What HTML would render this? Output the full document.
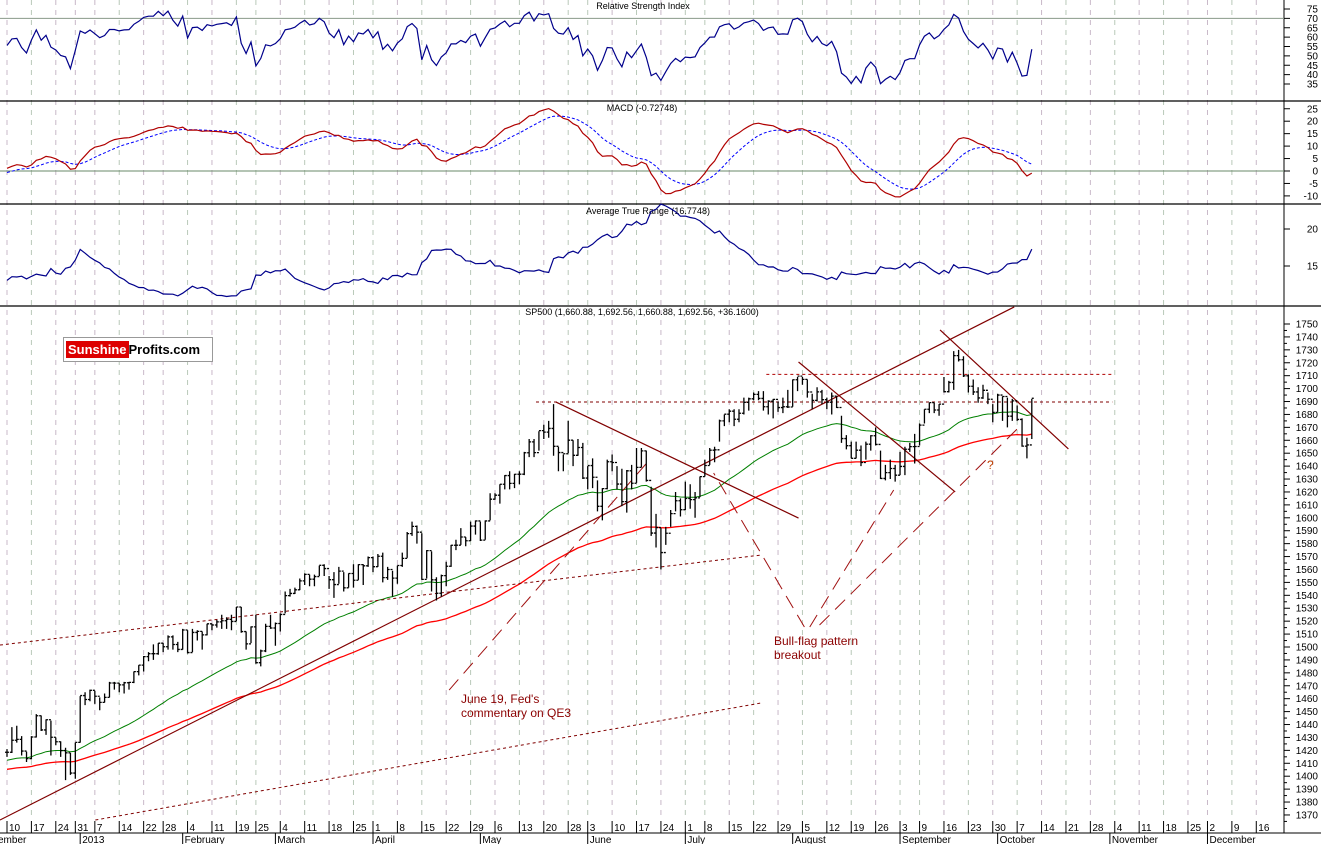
<!DOCTYPE html>
<html><head><meta charset="utf-8"><style>
html,body{margin:0;padding:0;background:#fff}
svg{display:block;font-family:"Liberation Sans",sans-serif}
</style></head><body>
<svg id="c" width="1321" height="844" viewBox="0 0 1321 844"></svg>
<script>
const closes=[1418.55,1427.84,1428.48,1419.45,1413.58,1430.36,1446.79,1435.81,1443.69,1430.15,1426.66,1419.83,1418.10,1402.43,1426.19,
1462.42,1459.37,1466.47,1461.89,1457.15,1461.02,1472.12,1472.05,1470.68,1472.34,1472.63,1480.94,1485.98,1492.56,1494.81,1494.82,1502.96,1500.18,1507.84,1501.96,1498.11,
1513.17,1495.71,1511.29,1512.12,1509.39,1517.93,1517.01,1519.43,1520.33,1521.38,1519.79,1530.94,1511.95,1502.42,1515.60,1487.85,1496.94,1515.99,1514.68,
1518.20,1525.20,1539.79,1541.46,1544.26,1551.18,1556.22,1552.48,1554.52,1563.23,1560.70,1552.10,1548.34,1558.71,1545.80,1556.89,1551.69,1563.77,1562.85,1569.19,
1562.17,1570.25,1553.69,1559.98,1553.28,1563.07,1568.61,1587.73,1593.37,1588.85,1552.36,1574.57,1552.01,1541.61,1555.25,1562.50,1578.78,1578.79,1585.16,1582.24,1593.61,1597.57,
1582.70,1597.59,1614.42,1617.50,1625.96,1632.69,1626.67,1633.70,1633.77,1650.34,1658.78,1650.47,1667.47,1666.29,1669.16,1655.35,1650.51,1649.60,1660.06,1648.36,1654.41,1630.74,
1640.42,1631.38,1608.90,1622.56,1643.38,1642.81,1626.13,1612.52,1636.36,1626.73,1639.04,1651.81,1628.93,1588.19,1592.43,1573.09,1588.03,1603.26,1613.20,1606.28,
1614.96,1614.08,1615.41,1631.89,1640.46,1652.32,1652.62,1675.02,1680.19,1682.50,1676.26,1680.91,1689.37,1692.09,1695.53,1692.39,1685.94,1690.25,1691.65,1685.33,1685.96,1685.73,
1706.87,1709.67,1707.14,1697.37,1690.91,1697.48,1691.42,1689.47,1694.16,1685.39,1661.32,1655.83,1646.06,1652.35,1642.80,1656.96,1663.50,1656.78,1630.48,1634.96,1638.17,1632.97,
1639.77,1653.08,1655.08,1655.17,1671.71,1683.99,1689.13,1683.42,1687.99,1697.60,1704.76,1725.52,1722.34,1709.91,1701.84,1697.42,1692.77,1698.67,1691.75,1681.55,
1695.00,1693.87,1678.66,1690.50,1676.12,1655.45,1656.40,1692.56];
const highs=[1421,1438,1439,1431,1419,1431,1448,1447,1444,1443,1430,1427,1422,1418,1426,
1462,1465,1467,1466,1461,1464,1473,1473,1472,1473,1473,1481,1486,1493,1496,1502,1503,1503,1509,1509,1504,
1514,1513,1514,1513,1512,1518,1518,1521,1525,1523,1525,1531,1531,1512,1516,1525,1498,1518,1525,
1519,1526,1543,1545,1546,1553,1557,1556,1556,1563,1564,1555,1558,1562,1558,1557,1564,1564,1564,1570,
1570,1572,1573,1562,1559,1563,1573,1589,1597,1594,1588,1575,1574,1554,1556,1566,1579,1583,1592,1585,1597,1598,
1597,1598,1619,1619,1626,1633,1636,1634,1636,1651,1661,1661,1667,1672,1675,1688,1655,1649,1675,1660,1661,1658,
1640,1646,1629,1623,1645,1649,1640,1638,1637,1641,1654,1654,1652,1624,1603,1592,1593,1606,1620,1615,
1628,1626,1620,1632,1645,1654,1655,1676,1680,1684,1684,1684,1693,1693,1697,1698,1698,1691,1692,1690,1693,1699,
1707,1709,1709,1707,1696,1701,1699,1693,1697,1694,1679,1664,1659,1659,1656,1659,1664,1670,1652,1641,1645,1641,
1651,1655,1658,1665,1673,1684,1689,1689,1688,1709,1706,1729,1730,1725,1711,1707,1701,1703,1697,1688,
1696,1694,1693,1692,1687,1677,1662,1692];
const lows=[1415,1418,1426,1416,1411,1413,1430,1435,1432,1416,1424,1415,1397,1401,1398,
1426,1455,1458,1456,1451,1457,1461,1467,1465,1464,1467,1472,1478,1481,1489,1490,1494,1496,1498,1498,1496,
1498,1495,1496,1505,1498,1509,1513,1515,1514,1514,1513,1520,1511,1498,1503,1487,1485,1496,1514,
1501,1512,1526,1539,1541,1544,1548,1547,1547,1555,1555,1545,1538,1549,1543,1546,1546,1552,1548,1562,
1558,1562,1550,1552,1539,1549,1562,1569,1586,1580,1552,1553,1543,1536,1539,1547,1562,1575,1579,1578,1582,1587,
1582,1583,1598,1614,1611,1622,1622,1623,1626,1633,1647,1647,1652,1661,1662,1648,1636,1636,1650,1640,1648,1630,
1622,1623,1605,1598,1622,1636,1622,1609,1604,1622,1627,1639,1628,1586,1577,1560,1579,1593,1605,1601,
1606,1607,1600,1616,1632,1641,1643,1659,1671,1674,1671,1674,1680,1683,1691,1691,1683,1680,1677,1682,1681,1685,
1686,1698,1703,1693,1684,1690,1688,1684,1680,1685,1658,1653,1646,1646,1640,1645,1652,1656,1630,1629,1630,1628,
1633,1633,1651,1642,1656,1673,1681,1681,1679,1697,1697,1699,1721,1709,1697,1695,1689,1692,1688,1674,
1682,1675,1670,1675,1675,1655,1646,1661];
const priceTicks=[1370,1380,1390,1400,1410,1420,1430,1440,1450,1460,1470,1480,1490,1500,1510,1520,1530,1540,1550,1560,1570,1580,1590,1600,1610,1620,1630,1640,1650,1660,1670,1680,1690,1700,1710,1720,1730,1740,1750];
const rsiTicks=[35,40,45,50,55,60,65,70,75];
const macdTicks=[-10,-5,0,5,10,15,20,25];
const atrTicks=[15,20];
const holidays=["2012-12-25","2013-01-01","2013-01-21","2013-02-18","2013-03-29","2013-05-27","2013-07-04","2013-09-02","2013-11-28","2013-12-25"];
const monthNames=["January","February","March","April","May","June","July","August","September","October","November","December"];
const solidLines=[[-1.44,1366.1,206.4,1763.2],[112.5,1689.6,162.2,1599.8],[162.2,1720.6,194.3,1620.0],[191.2,1745.4,217.5,1653.3]];
const dottedLines=[[-1.44,1501.5,154.6,1571.2],[18.1,1366.1,154.6,1456.7],[108.4,1689.6,226.5,1689.6]];
const redDotted=[[155.6,1711,226.5,1711]];
const dashedLines=[[90.6,1466.7,132.0,1646.3],[163.4,1515.5,144.8,1634.7],[164.5,1515.5,181.7,1621.5],[166.5,1517,207.6,1671]];

const svg=document.getElementById('c');
const NS="http://www.w3.org/2000/svg";
function mk(tag,attrs,parent){const e=document.createElementNS(NS,tag);for(const k in attrs)e.setAttribute(k,attrs[k]);(parent||svg).appendChild(e);return e;}
const xOf=i=>7+i*4.88;
const yP=p=>324+(1750-p)*1.292;
const yR=v=>9+(75-v)*1.875;
const yM=v=>171-v*2.49;
const yA=v=>266-(v-15)*7.4;
const AX=1284;

const dates=[];
{let d=new Date(Date.UTC(2012,11,10));while(dates.length<257){const dw=d.getUTCDay();const s=d.toISOString().slice(0,10);if(dw!==0&&dw!==6&&!holidays.includes(s))dates.push(new Date(d));d=new Date(d.getTime()+86400000);}}

const gGrid=mk('g',{});


const gX=mk('g',{'font-size':'10',fill:'#000'});


let prevWeek=-1,prevMonth=-1;
dates.forEach((d,i)=>{
  const wk=Math.floor((d.getTime()/86400000+3)/7);
  const x=xOf(i);
  if(wk!==prevWeek){prevWeek=wk;
    mk('line',{x1:x,y1:0,x2:x,y2:820,stroke:(i%2?'#b9c9b9':'#c8b8c8'),'stroke-dasharray':'5,5','stroke-width':1},gGrid);
    mk('line',{x1:x,y1:821,x2:x,y2:833,stroke:'#000'},gX);
    const t=mk('text',{x:x+2,y:831},gX);t.textContent=d.getUTCDate();
    
    
  }
  const m=d.getUTCMonth();
  if(m!==prevMonth){ if(prevMonth!==-1){
    mk('line',{x1:x,y1:833,x2:x,y2:844,stroke:'#000'},gX);
    const t=mk('text',{x:x+2,y:843},gX);t.textContent=(m===0?'2013':monthNames[m]);
    
    }
    prevMonth=m;}
});
{const t=mk('text',{x:-2,y:843},gX);t.textContent='ember';}
mk('line',{x1:0,y1:833,x2:1321,y2:833,stroke:'#000'},gX);

[101,204,306].forEach(y=>mk('line',{x1:0,y1:y,x2:1321,y2:y,stroke:'#000','stroke-width':1.3}));
mk('line',{x1:AX,y1:0,x2:AX,y2:833,stroke:'#000'});
mk('line',{x1:0,y1:yR(70),x2:AX,y2:yR(70),stroke:'#8a9a8a'});
mk('line',{x1:0,y1:yM(0),x2:AX,y2:yM(0),stroke:'#6a8a6a'});

function axisTicks(ticks,yf,name){const g=mk('g',{'font-size':'10','text-anchor':'end'});
  
  
  ticks.forEach(v=>{const y=yf(v);mk('line',{x1:AX,y1:y,x2:AX+6,y2:y,stroke:'#000'},g);const t=mk('text',{x:1318,y:y+3.5},g);t.textContent=v;});}
axisTicks(priceTicks,yP,'price-axis');
axisTicks(rsiTicks,yR,'rsi-axis');
axisTicks(macdTicks,yM,'macd-axis');
axisTicks(atrTicks,yA,'atr-axis');
for(let p=1365;p<1755;p+=10)mk('line',{x1:AX,y1:yP(p),x2:AX+3,y2:yP(p),stroke:'#000'});

function title(txt,x,y,name){const t=mk('text',{x:x,y:y,'font-size':'9','text-anchor':'middle'});t.textContent=txt;}
title('Relative Strength Index',643,9,'rsi-title');
title('MACD (-0.72748)',642,111,'macd-title');
title('Average True Range (16.7748)',648,214,'atr-title');
title('SP500 (1,660.88, 1,692.56, 1,660.88, 1,692.56, +36.1600)',642,315,'sp500-title');

const n=closes.length;
function ema(arr,p,seed){const k=2/(p+1);let e=seed;return arr.map(v=>(e=v*k+e*(1-k)));}
const maG=ema(closes,38,1412), maR=ema(closes,80,1405);
const e12=ema(closes,12,closes[0]-2), e26=ema(closes,26,closes[0]-3);
const macd=e12.map((v,i)=>v-e26[i]); const sig=ema(macd,9,-1);
const rsi=[];{let ag=5,al=4;for(let i=0;i<n;i++){const ch=i?closes[i]-closes[i-1]:0;ag=(ag*13+Math.max(ch,0))/14;al=(al*13+Math.max(-ch,0))/14;rsi.push(100-100/(1+ag/al));}}
const atr=[];{let a=13.6;for(let i=0;i<n;i++){const pc=i?closes[i-1]:closes[0];const tr=Math.max(highs[i]-lows[i],Math.abs(highs[i]-pc),Math.abs(lows[i]-pc));a=(a*13+tr)/14;atr.push(a);}}
function poly(vals,yf,attrs,name){const pts=vals.map((v,i)=>xOf(i).toFixed(1)+','+yf(v).toFixed(1)).join(' ');const e=mk('polyline',Object.assign({points:pts,fill:'none'},attrs));}
poly(rsi,yR,{stroke:'#00008b','stroke-width':1.2},'rsi-line');
poly(sig,yM,{stroke:'#0000ff','stroke-dasharray':'3,2'},'macd-signal-line');
poly(macd,yM,{stroke:'#b00000','stroke-width':1.2},'macd-line');
poly(atr,yA,{stroke:'#00008b','stroke-width':1.2},'atr-line');
poly(maG,yP,{stroke:'#008000'},'moving-average-green');
poly(maR,yP,{stroke:'#ff0000','stroke-width':1.3},'moving-average-red');

function lines(arr,attrs,name){arr.forEach(l=>{const e=mk('line',Object.assign({x1:xOf(l[0]),y1:yP(l[1]),x2:xOf(l[2]),y2:yP(l[3])},attrs));});}
lines(solidLines,{stroke:'#800000','stroke-width':1.2},'trendline');
lines(dottedLines,{stroke:'#800000','stroke-dasharray':'3,3'},'dotted-trendline');
lines(redDotted,{stroke:'#b00000','stroke-dasharray':'3,3'},'resistance-line');
lines(dashedLines,{stroke:'#a01010','stroke-dasharray':'14,8'},'annotation-pointer');

const gB=mk('g',{stroke:'#000','stroke-width':1.3});


for(let i=0;i<n;i++){const x=xOf(i);const o=i?closes[i-1]:closes[0];
  const b=mk('path',{d:`M${x},${yP(highs[i])}V${yP(lows[i])}M${x-2},${yP(o)}H${x}M${x},${yP(closes[i])}H${x+2}`,fill:'none'},gB);
  
  }
</script>
<div style="position:absolute;left:63px;top:337px;width:148px;height:23px;border:1px solid #999;background:#fff;font:bold 13px 'Liberation Sans',sans-serif;line-height:23px;">
<span style="background:#d00;color:#fff;padding:1px 2px;margin-left:2px">Sunshine</span><span style="color:#000">Profits.com</span></div>
<div style="position:absolute;left:461px;top:692px;color:#8b0000;font:12px 'Liberation Sans',sans-serif;line-height:14px">June 19, Fed's<br>commentary on QE3</div>
<div style="position:absolute;left:774px;top:634px;color:#8b0000;font:12px 'Liberation Sans',sans-serif;line-height:14px">Bull-flag pattern<br>breakout</div>
<div style="position:absolute;left:987px;top:458px;color:#c04000;font:12px 'Liberation Sans',sans-serif">?</div>
</body></html>
